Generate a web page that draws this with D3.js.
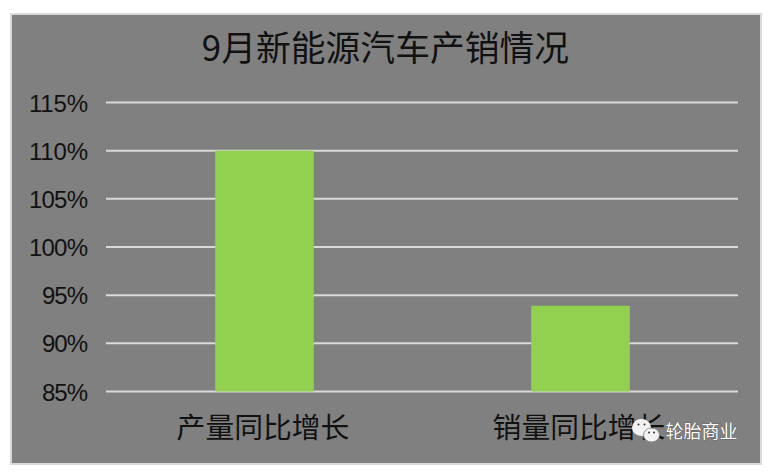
<!DOCTYPE html>
<html><head><meta charset="utf-8">
<script src="https://cdn.jsdelivr.net/npm/d3@7"></script>
<style>html,body{margin:0;padding:0;background:#fff}svg{display:block}text{font-family:"Noto Sans CJK SC",sans-serif;fill:#111}</style>
</head><body><svg id="c" width="771" height="472"></svg>
<script>
const categories=["产量同比增长","销量同比增长"];
const values=[110,93.9];
const yTicks=[85,90,95,100,105,110,115];
const titleText="9月新能源汽车产销情况";
const watermark="轮胎商业";
const svg=d3.select("#c");
svg.append("rect").attr("x",11).attr("y",14).attr("width",750).attr("height",450).attr("fill","#808080").attr("stroke","#d9d9d9").attr("stroke-width",2);
const y=d3.scaleLinear().domain([85,115]).range([391.5,102.5]);
const x=d3.scaleBand().domain(categories).range([106.5,738.5]).paddingInner(0.688).paddingOuter(0.344);
svg.append("g").selectAll("line").data(yTicks).join("line")
 .attr("x1",106).attr("x2",738).attr("y1",d=>y(d)).attr("y2",d=>y(d)).attr("stroke","#d9d9d9").attr("stroke-width",2);
svg.append("g").selectAll("rect").data(values).join("rect")
 .attr("x",(d,i)=>x(categories[i])).attr("width",x.bandwidth()).attr("y",d=>y(d)).attr("height",d=>y(85)-y(d)).attr("fill","#92d050");
svg.append("g").selectAll("text").data(yTicks).join("text")
 .attr("x",88).attr("y",d=>y(d)+9).attr("text-anchor","end").attr("font-size",24).style("font-family","Liberation Sans").attr("textLength",d=>d>=100?59:46).text(d=>d+"%");
svg.append("g").selectAll("text").data(categories).join("text")
 .attr("x",d=>x(d)+x.bandwidth()/2-1.5).attr("y",438).attr("text-anchor","middle").attr("font-size",28.8).text(d=>d);
svg.append("text").attr("x",385.5).attr("y",61).attr("text-anchor","middle").attr("font-size",34.8).text(titleText);
svg.append("text").attr("x",665.5).attr("y",438).attr("font-size",18).style("fill","#fff").style("paint-order","stroke").style("stroke","#444").style("stroke-width",0.6).text(watermark);
const wm=svg.append("g").attr("fill","#f2f2f2");
wm.append("ellipse").attr("cx",641.5).attr("cy",427.5).attr("rx",9.5).attr("ry",8.5);
wm.append("ellipse").attr("cx",651.5).attr("cy",435).attr("rx",8).attr("ry",7).attr("stroke","#808080").attr("stroke-width",0.8);
wm.append("g").attr("fill","#333").selectAll("circle").data([[638.5,424.5],[644.5,424.5],[649,432.5],[654,432.5]]).join("circle")
 .attr("cx",d=>d[0]).attr("cy",d=>d[1]).attr("r",1);
</script></body></html>
